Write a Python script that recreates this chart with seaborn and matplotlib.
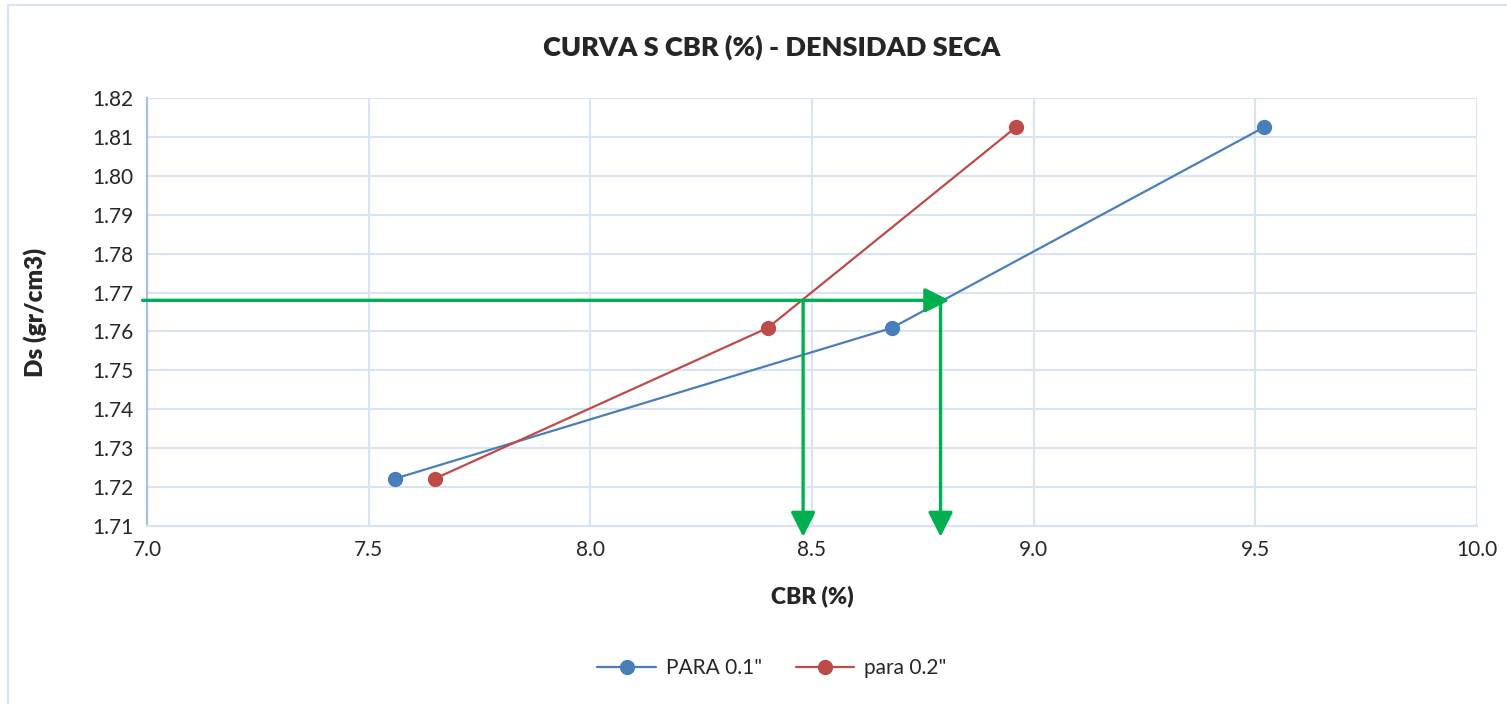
import numpy as np
import pandas as pd
import matplotlib.pyplot as plt
import seaborn as sns

# valores
cbr_01 = [7.56, 8.68, 9.52]
cbr_02 = [7.65, 8.40, 8.96]
ds_vals = [1.7222, 1.7609, 1.8125]
series_names = ['PARA 0.1"', 'para 0.2"']

ds_design = 1.768
cbr_design_01 = 8.79
cbr_design_02 = 8.48

x_ticks = np.arange(7.0, 10.01, 0.5)
y_ticks = np.arange(1.71, 1.8201, 0.01)

palette = {'PARA 0.1"': '#4a7ebb', 'para 0.2"': '#be4b48'}
green = '#00b050'
grid_col = '#d9e4f2'

df = pd.DataFrame({
    'CBR': cbr_01 + cbr_02,
    'Ds': ds_vals + ds_vals,
    'serie': [series_names[0]] * 3 + [series_names[1]] * 3,
})

sns.set_style("white")
plt.rcParams['font.family'] = ['Lato', 'DejaVu Sans']

fig = plt.figure(figsize=(15.07, 7.04), dpi=100)
ax = fig.add_axes([147 / 1507, 1 - 526 / 704, (1477 - 147) / 1507, (526 - 98) / 704])

sns.lineplot(data=df, x='CBR', y='Ds', hue='serie', palette=palette, marker='o',
             markersize=11, markeredgewidth=0, linewidth=1.6, sort=False, ax=ax,
             estimator=None)

ax.set_xlim(7.0, 10.0)
ax.set_ylim(1.71, 1.82)
ax.set_xticks(x_ticks)
ax.set_yticks(y_ticks)
ax.set_xticklabels([f'{v:.1f}' for v in x_ticks])
ax.set_yticklabels([f'{v:.2f}' for v in y_ticks])
ax.tick_params(labelsize=15, length=0, pad=10)
ax.grid(True, color=grid_col, linewidth=1.5)
ax.set_axisbelow(True)
for side in ['top', 'right']:
    ax.spines[side].set_visible(False)
ax.spines['left'].set_color('#a3bfe6')
ax.spines['left'].set_linewidth(1.5)
ax.spines['bottom'].set_color(grid_col)
ax.spines['bottom'].set_linewidth(1.5)

ax.set_xlabel('CBR (%)', fontsize=16.5, fontweight='heavy', labelpad=18)
ax.set_ylabel('Ds (gr/cm3)', fontsize=17.5, fontweight='heavy', labelpad=32)
fig.text(0.512, 1 - 47 / 704, 'CURVA S CBR (%) - DENSIDAD SECA', ha='center', va='center',
         fontsize=19.5, fontweight='heavy')

# lineas de lectura
arrow = dict(arrowstyle='-|>,head_length=1.0,head_width=0.5', color=green, lw=2.4,
             shrinkA=0, shrinkB=0, mutation_scale=15)
ax.annotate('', xy=(cbr_design_01 + 0.02, ds_design), xytext=(6.99, ds_design),
            arrowprops=arrow, annotation_clip=False)
for xv in [cbr_design_02, cbr_design_01]:
    ax.annotate('', xy=(xv, 1.7072), xytext=(xv, ds_design),
                arrowprops=arrow, annotation_clip=False)

handles, labels = ax.get_legend_handles_labels()
ax.legend(handles, labels, loc='center', bbox_to_anchor=(772 / 1507, 1 - 668 / 704),
          bbox_transform=fig.transFigure, ncol=2, frameon=False, fontsize=15,
          handlelength=2.8, handletextpad=0.5, columnspacing=1.6)

# marco exterior
fig.add_artist(plt.Line2D([8 / 1507, 8 / 1507], [0, 1 - 5 / 704], color=grid_col, lw=1.5))
fig.add_artist(plt.Line2D([8 / 1507, 1], [1 - 5 / 704, 1 - 5 / 704], color=grid_col, lw=1.5))

plt.savefig('out.png', dpi=100)
